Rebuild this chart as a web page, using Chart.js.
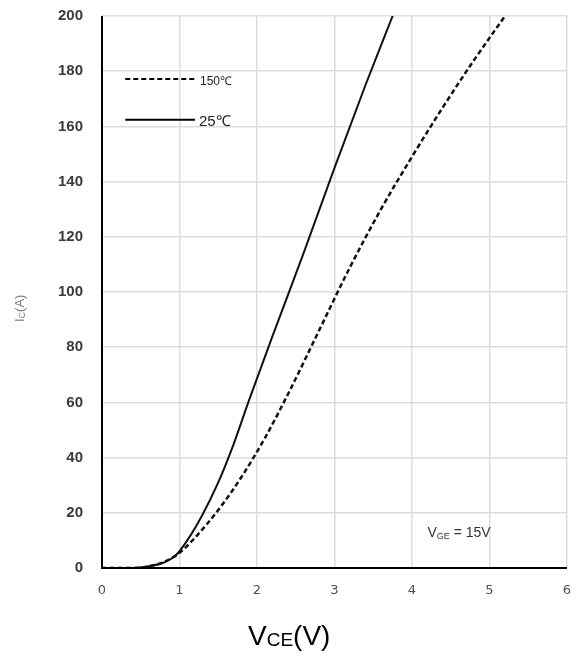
<!DOCTYPE html>
<html>
<head>
<meta charset="utf-8">
<script src="https://cdn.jsdelivr.net/npm/chart.js@4/dist/chart.umd.min.js"></script>
<style>
html,body{margin:0;padding:0;background:#fff;}
#wrap{width:577px;height:657px;}
</style>
</head>
<body>
<div id="wrap"><canvas id="c" width="577" height="657"></canvas></div>
<script>
// Data (V_CE in volts, I_C in amperes)
const seriesNames = ['150℃', '25℃'];
const vce150 = [0, 0.4, 0.6, 0.8, 1.0, 1.2, 1.5, 1.8, 2.1, 2.4, 2.8, 3.2, 3.6, 4.0, 4.4, 4.8, 5.2];
const ic150  = [0, 0,   0.6, 2.2, 5.5, 11,  21,  33,  47,  63,  86,  109, 130, 149, 167, 184, 200];
const vce25  = [0, 0.4, 0.6, 0.8, 0.95, 1.1, 1.3,  1.5, 1.7, 1.9, 2.2, 2.6, 3.0, 3.4, 3.75];
const ic25   = [0, 0,   0.6, 2,   4.5,  10,  19.5, 31,  45,  61,  84,  114, 145, 175, 200];
const xTicks = [0, 1, 2, 3, 4, 5, 6];
const yTicks = [0, 20, 40, 60, 80, 100, 120, 140, 160, 180, 200];

function pts(xs, ys){ return xs.map((x,i)=>({x:x, y:ys[i]})); }

const overlay = {
  id: 'overlay',
  afterDraw(chart){
    const ctx = chart.ctx, a = chart.chartArea;
    const W = a.right - a.left, H = a.bottom - a.top;
    ctx.save();
    // legend samples
    const lx0 = a.left + W*0.05, lx1 = a.left + W*0.20;
    const ly1 = a.top + H*0.114, ly2 = a.top + H*0.188;
    ctx.strokeStyle = '#000';
    ctx.lineWidth = 2;
    ctx.setLineDash([5,3]);
    ctx.beginPath(); ctx.moveTo(lx0, ly1); ctx.lineTo(lx1, ly1); ctx.stroke();
    ctx.setLineDash([]);
    ctx.beginPath(); ctx.moveTo(lx0, ly2); ctx.lineTo(lx1, ly2); ctx.stroke();
    ctx.fillStyle = '#222';
    ctx.textBaseline = 'middle';
    ctx.textAlign = 'left';
    ctx.font = '12px "Liberation Sans", Arial, sans-serif';
    ctx.fillText(seriesNames[0], lx1 + 5, ly1 + 3);
    ctx.font = '15px "Liberation Sans", Arial, sans-serif';
    ctx.fillText(seriesNames[1], lx1 + 4, ly2 + 2);

    // V_GE annotation
    let x = a.left + W*0.700, y = a.top + H*0.937;
    ctx.fillStyle = '#333';
    ctx.font = '14px "Liberation Sans", Arial, sans-serif';
    ctx.fillText('V', x, y);
    x += ctx.measureText('V').width;
    ctx.font = '9px "Liberation Sans", Arial, sans-serif';
    ctx.fillText('GE', x, y + 3);
    x += ctx.measureText('GE').width;
    ctx.font = '14px "Liberation Sans", Arial, sans-serif';
    ctx.fillText(' = 15V', x, y);

    // x title
    ctx.fillStyle = '#000';
    ctx.font = '28px "Liberation Sans", Arial, sans-serif';
    const w1 = ctx.measureText('V').width;
    ctx.font = '19px "Liberation Sans", Arial, sans-serif';
    const w2 = ctx.measureText('CE').width;
    let tx = 248;
    const ty = 645;
    ctx.textBaseline = 'alphabetic';
    ctx.font = '28px "Liberation Sans", Arial, sans-serif';
    ctx.fillText('V', tx, ty); tx += w1;
    ctx.font = '19px "Liberation Sans", Arial, sans-serif';
    ctx.fillText('CE', tx, ty + 1); tx += w2;
    ctx.font = '28px "Liberation Sans", Arial, sans-serif';
    ctx.fillText('(V)', tx, ty);

    // y title (rotated)
    ctx.translate(20, 302);
    ctx.rotate(-Math.PI/2);
    ctx.fillStyle = '#7f7f7f';
    ctx.textBaseline = 'middle';
    let yx = -20;
    ctx.font = '13px "Liberation Sans", Arial, sans-serif';
    ctx.fillText('I', yx, 0); yx += ctx.measureText('I').width;
    ctx.font = '9px "Liberation Sans", Arial, sans-serif';
    ctx.fillText('C', yx, 3); yx += ctx.measureText('C').width;
    ctx.font = '13px "Liberation Sans", Arial, sans-serif';
    ctx.fillText('(A)', yx, 0);
    ctx.restore();

    // left & bottom axis lines
    ctx.save();
    ctx.strokeStyle = '#000';
    ctx.lineWidth = 2;
    ctx.beginPath();
    ctx.moveTo(a.left, a.top); ctx.lineTo(a.left, a.bottom); ctx.lineTo(a.right, a.bottom);
    ctx.stroke();
    ctx.restore();
  }
};

new Chart(document.getElementById('c'), {
  type: 'scatter',
  data: {
    datasets: [
      { label: seriesNames[0], data: pts(vce150, ic150), showLine: true, borderColor: '#111', borderWidth: 2.5,
        borderDash: [5,3], pointRadius: 0, cubicInterpolationMode: 'monotone', fill: false },
      { label: seriesNames[1], data: pts(vce25, ic25), showLine: true, borderColor: '#111', borderWidth: 2,
        pointRadius: 0, cubicInterpolationMode: 'monotone', fill: false }
    ]
  },
  options: {
    responsive: false,
    animation: false,
    layout: { padding: { top: 16, right: 10, left: 0, bottom: 0 } },
    plugins: { legend: { display: false }, tooltip: { enabled: false } },
    scales: {
      x: {
        type: 'linear', min: 0, max: 6,
        afterBuildTicks(s){ s.ticks = xTicks.map(v=>({value:v})); },
        afterFit(s){ s.height = 89; s.paddingLeft = 0; s.paddingRight = 0; },
        grid: { color: '#dcdcdc', lineWidth: 1.5, drawTicks: false },
        border: { display: false },
        ticks: { padding: 15, color: '#505050', font: { family: '"DejaVu Sans", Verdana, sans-serif', size: 13 }, maxRotation: 0 }
      },
      y: {
        type: 'linear', min: 0, max: 200,
        afterBuildTicks(s){ s.ticks = yTicks.map(v=>({value:v})); },
        afterFit(s){ s.width = 102; s.paddingTop = 0; s.paddingBottom = 0; },
        grid: { color: '#dcdcdc', lineWidth: 1.5, drawTicks: false },
        border: { display: false },
        ticks: { padding: 19, color: '#3a3a3a', font: { family: '"Liberation Sans", Arial, sans-serif', size: 15, weight: 'bold' } }
      }
    }
  },
  plugins: [overlay]
});
</script>
</body>
</html>
